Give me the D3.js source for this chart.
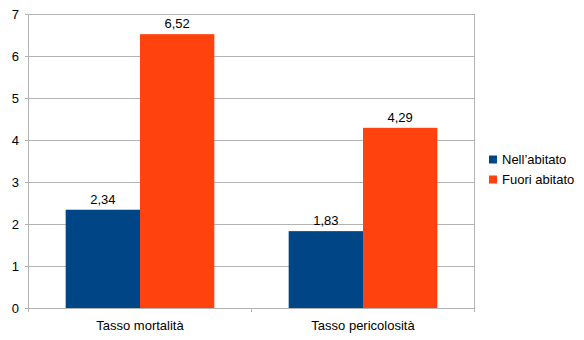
<!DOCTYPE html>
<html><head><meta charset="utf-8">
<script src="https://cdn.jsdelivr.net/npm/d3@7"></script>
<style>body{margin:0;background:#fff}svg{display:block}text{font-family:"Liberation Sans",Arial,sans-serif;fill:#000}</style>
</head><body>
<svg id="c" width="584" height="340"></svg>
<script>
const categories = ["Tasso mortalità", "Tasso pericolosità"];
const seriesNames = ["Nell’abitato", "Fuori abitato"];
const nellAbitato = [2.34, 1.83];
const fuoriAbitato = [6.52, 4.29];
const yTicks = [0, 1, 2, 3, 4, 5, 6, 7];
const colors = ["#004586", "#ff420e"];

const svg = d3.select("#c");
const L = 28.5, R = 474.5, T = 14, B = 308;
const x0 = d3.scaleBand().domain(categories).range([L, R]).padding(0);
const x1 = d3.scaleBand().domain(seriesNames).range([0, x0.bandwidth()]).paddingInner(0).paddingOuter(0.5);
const y = d3.scaleLinear().domain([0, 7]).range([B, T]);

// grid
svg.append("g").selectAll("line").data(yTicks).join("line")
  .attr("x1", L - 4).attr("x2", R).attr("y1", d => y(d)).attr("y2", d => y(d))
  .attr("stroke", "#b3b3b3").attr("stroke-width", 1).attr("shape-rendering", "crispEdges");
// y axis line
svg.append("line").attr("x1", L).attr("x2", L).attr("y1", T).attr("y2", B + 4)
  .attr("stroke", "#b3b3b3").attr("shape-rendering", "crispEdges");
// right border
svg.append("line").attr("x1", R).attr("x2", R).attr("y1", T).attr("y2", B + 4)
  .attr("stroke", "#b3b3b3").attr("shape-rendering", "crispEdges");
// category ticks
svg.append("g").selectAll("line").data(categories.slice(1)).join("line")
  .attr("x1", d => x0(d)).attr("x2", d => x0(d)).attr("y1", B).attr("y2", B + 4)
  .attr("stroke", "#b3b3b3").attr("shape-rendering", "crispEdges");

// y labels
svg.append("g").selectAll("text").data(yTicks).join("text")
  .attr("x", 19).attr("y", d => y(d)).attr("dy", "0.35em").attr("text-anchor", "end")
  .attr("font-size", 13).text(d => d);

const data = categories.map((c, i) => ({cat: c, vals: [nellAbitato[i], fuoriAbitato[i]]}));
const g = svg.append("g").selectAll("g").data(data).join("g")
  .attr("transform", d => `translate(${x0(d.cat)},0)`);
g.selectAll("rect").data(d => d.vals.map((v, j) => ({v, s: seriesNames[j], j}))).join("rect")
  .attr("x", d => x1(d.s)).attr("width", x1.bandwidth())
  .attr("y", d => y(d.v)).attr("height", d => B - y(d.v)).attr("fill", d => colors[d.j]);
g.selectAll("text").data(d => d.vals.map((v, j) => ({v, s: seriesNames[j]}))).join("text")
  .attr("x", d => x1(d.s) + x1.bandwidth() / 2).attr("y", d => y(d.v) - 6)
  .attr("text-anchor", "middle").attr("font-size", 13)
  .text(d => d3.format(".2f")(d.v).replace(".", ","));

// category labels
svg.append("g").selectAll("text").data(categories).join("text")
  .attr("x", d => x0(d) + x0.bandwidth() / 2).attr("y", 330)
  .attr("text-anchor", "middle").attr("font-size", 13).text(d => d);

// legend
const lg = svg.append("g").selectAll("g").data(seriesNames).join("g")
  .attr("transform", (d, i) => `translate(489,${155.5 + i * 20})`);
lg.append("rect").attr("width", 8).attr("height", 8).attr("fill", (d, i) => colors[i]);
lg.append("text").attr("x", 13).attr("y", 4).attr("dy", "0.35em").attr("font-size", 13).text(d => d);
</script>
</body></html>
